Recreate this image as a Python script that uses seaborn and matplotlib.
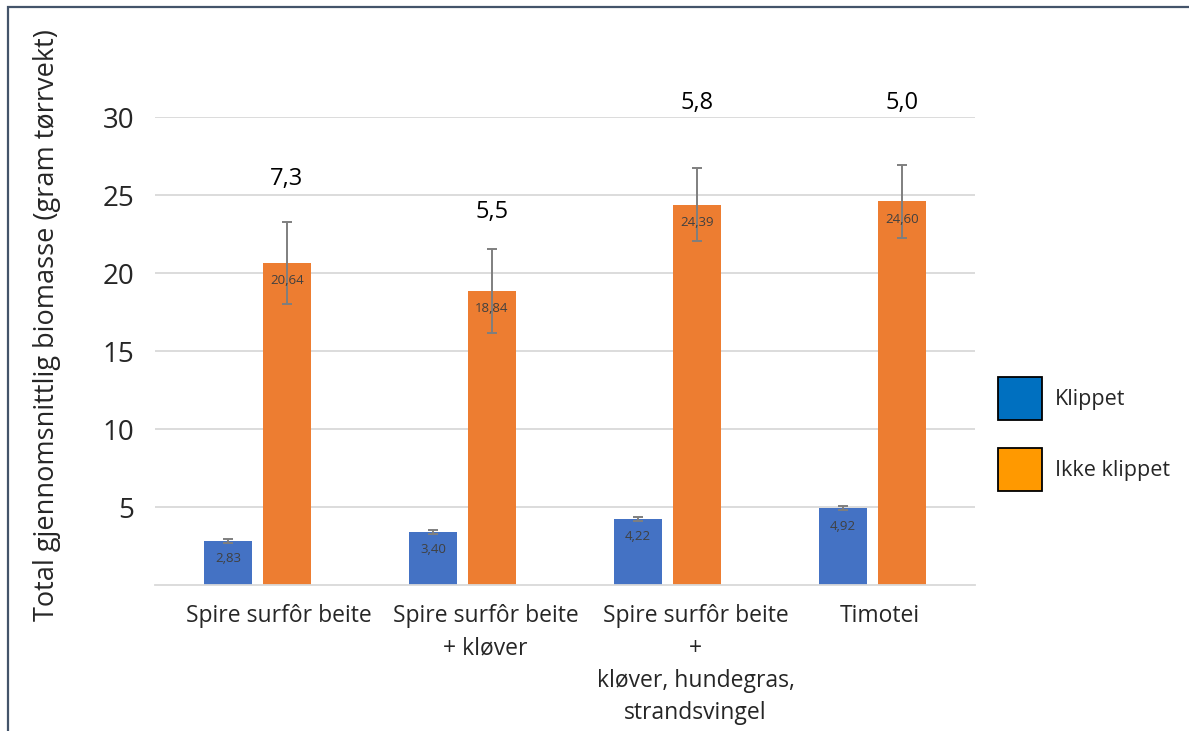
import matplotlib
matplotlib.use("Agg")
import matplotlib.pyplot as plt
from matplotlib.patches import Patch, Rectangle
from matplotlib.transforms import ScaledTranslation
import pandas as pd
import seaborn as sns

# data
categories = ["Spire surfôr beite",
              "Spire surfôr beite\n+ kløver",
              "Spire surfôr beite\n+\nkløver, hundegras,\nstrandsvingel",
              "Timotei"]
klippet = [2.83, 3.40, 4.22, 4.92]
klippet_err = [0.12, 0.12, 0.12, 0.12]
ikke_klippet = [20.64, 18.84, 24.39, 24.60]
ikke_klippet_err = [2.65, 2.70, 2.35, 2.35]
ratio_labels = ["7,3", "5,5", "5,8", "5,0"]
groups = ["Klippet", "Ikke klippet"]

df = pd.DataFrame({
    "kategori": categories * 2,
    "behandling": [groups[0]] * 4 + [groups[1]] * 4,
    "biomasse": klippet + ikke_klippet,
})

sns.set_style("white")
plt.rcParams["font.family"] = ["Open Sans", "DejaVu Sans"]

fig = plt.figure(figsize=(11.89, 7.31), dpi=100)
ax = fig.add_axes([155 / 1189, 1 - 585 / 731, 820 / 1189, 468 / 731])

sns.barplot(data=df, x="kategori", y="biomasse", hue="behandling",
            hue_order=groups, palette=["#4472C4", "#ED7D31"],
            width=0.575, gap=0.2, errorbar=None, legend=False, ax=ax,
            edgecolor="none", saturation=1)

# error bars + value labels
for cont, vals, errs in zip(ax.containers, [klippet, ikke_klippet],
                            [klippet_err, ikke_klippet_err]):
    xs = [p.get_x() + p.get_width() / 2 for p in cont]
    ax.errorbar(xs, vals, yerr=errs, fmt="none", ecolor="#7f7f7f",
                elinewidth=1.4, capsize=3.5, capthick=1.4, zorder=4)
    ax.bar_label(cont, labels=[f"{v:.2f}".replace(".", ",") for v in vals],
                 padding=-17.5, fontsize=9.5, color="#404040", zorder=5)

# ratio labels above the orange bars
label_y = [26.0, 23.9, 30.9, 30.9]
for p, txt, y in zip(ax.containers[1], ratio_labels, label_y):
    ax.text(p.get_x() + p.get_width() / 2, y, txt, ha="center", va="center",
            fontsize=17, color="black", clip_on=False)

ax.set_xlim(-0.5, 3.5)
ax.set_ylim(0, 30)
ax.set_yticks([5, 10, 15, 20, 25, 30])
ax.tick_params(axis="y", labelsize=20, length=0, pad=15)
ax.tick_params(axis="x", labelsize=16.5, length=0, pad=14)
ax.yaxis.grid(True, color="#d9d9d9", lw=1.3)
ax.set_axisbelow(True)
for s in ["left", "right", "top"]:
    ax.spines[s].set_visible(False)
ax.spines["bottom"].set_color("#d9d9d9")
ax.spines["bottom"].set_linewidth(1.3)

# category captions sit a bit right of the bar groups in the original
shift_px = [21, 23, 28, 7]
for lab, dx in zip(ax.get_xticklabels(), shift_px):
    lab.set_linespacing(1.45)
    lab.set_transform(lab.get_transform() +
                      ScaledTranslation(dx / 100, 0, fig.dpi_scale_trans))

ax.set_xlabel("")
ax.set_ylabel("Total gjennomsnittlig biomasse (gram tørrvekt)", fontsize=19.5)
ax.yaxis.set_label_coords(-0.115, 0.556)

handles = [Patch(facecolor="#0070C0", edgecolor="black", lw=1.3),
           Patch(facecolor="#FF9900", edgecolor="black", lw=1.3)]
fig.legend(handles, groups, loc="center left",
           bbox_to_anchor=(998 / 1189, 1 - 434 / 731), frameon=False,
           fontsize=15.5, handlelength=2.05, handleheight=2.7,
           handletextpad=0.6, labelspacing=1.3, borderpad=0,
           borderaxespad=0)

# slide frame
fig.patches.append(Rectangle((8 / 1189, -0.05), 1.0, 1.05 - 7 / 731,
                             transform=fig.transFigure, fill=False,
                             edgecolor="#44546A", lw=1.6))

fig.savefig("out.png", dpi=100)
